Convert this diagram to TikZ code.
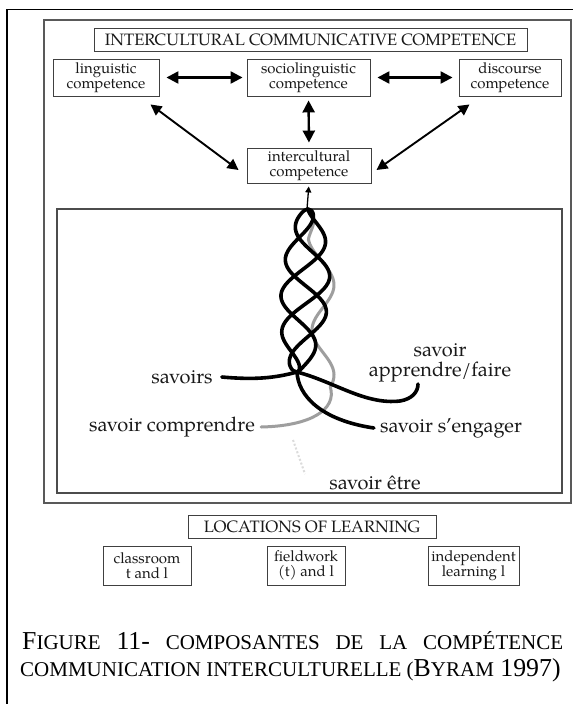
\documentclass[tikz,border=0pt]{standalone}
\usepackage{fontspec}
\newfontfamily\pal{texgyrepagella-regular.otf}
\newfontfamily\tnr{Liberation Serif}
\usetikzlibrary{arrows.meta,calc}
\newcommand\capbig[1]{{\fontsize{25.8}{25.8}\selectfont #1}}
\newcommand\capsm[1]{{\fontsize{21}{21}\selectfont #1}}
\tikzset{
  box/.style={draw=black!75, line width=0.9pt, inner sep=0pt, align=center,
    font=\pal\fontsize{15}{15.5}\selectfont, text=black!90},
  hbox/.style={draw=black!75, line width=0.9pt, inner sep=0pt,
    font=\pal\fontsize{16.5}{18}\selectfont, text=black!90, minimum height=23pt},
  darr/.style={line width=2.4pt, {Triangle[length=12pt,width=12pt]}-{Triangle[length=12pt,width=12pt]}},
  dgarr/.style={line width=1.9pt, {Triangle[length=11pt,width=11pt]}-{Triangle[length=11pt,width=11pt]}},
  uparr/.style={line width=1.3pt, -{Triangle[length=6pt,width=6pt]}},
  strand/.style={line width=3.6pt, black, line cap=round},
  gstrand/.style={line width=3pt, black!38, line cap=round},
  lbl/.style={inner sep=0pt, font=\pal\fontsize{20}{20}\selectfont, text=black!90},
}
\begin{document}
\begin{tikzpicture}[x=1pt,y=-1pt]
\useasboundingbox (0,0) rectangle (573,704);
\fill[white] (0,0) rectangle (573,704);
% table borders
\draw[line width=2.6pt] (7,9) -- (7,704);
\draw[line width=1pt] (7,9) -- (573,9);
% outer and inner frames
\draw[black!65, line width=1.4pt] (44,20) rectangle (571,503);
\node[draw=black!70, line width=1.1pt, minimum width=505pt, minimum height=284pt, inner sep=0pt] (inner) at (309.5,351) {};
% top part
\node[hbox, minimum width=433pt] (title) at (310.5,39.5) {INTERCULTURAL COMMUNICATIVE COMPETENCE};
\node[box, minimum width=106pt, minimum height=37pt] (ling) at (106,77.5) {linguistic\\competence};
\node[box, minimum width=123pt, minimum height=37pt] (socio) at (308.5,77.5) {sociolinguistic\\competence};
\node[box, minimum width=102pt, minimum height=37pt] (disc) at (510,77.5) {discourse\\competence};
\node[box, minimum width=124pt, minimum height=35pt] (inter) at (309,165.5) {intercultural\\competence};
\draw[darr, shorten <=7pt, shorten >=4pt] (ling) -- (socio);
\draw[darr, shorten <=7pt, shorten >=6pt] (socio) -- (disc);
\draw[darr, shorten <=4pt, shorten >=5pt] (socio.south) -- (inter.north);
\draw[dgarr] ([shift={(-9,8)}]ling.south east) -- ([shift={(-8,4.5)}]inter.west);
\draw[dgarr] ([shift={(11,8)}]disc.south west) -- ([shift={(5,4.5)}]inter.east);
\coordinate (btop) at (307,209);
\draw[uparr, shorten >=3pt] (btop) -- (inter.south);
% labels
\node[lbl] (sav) at (182,377) {savoirs};
\node[lbl, align=center] (app) at (440,363) {savoir\\apprendre/faire};
\node[lbl] (comp) at (172,427) {savoir comprendre};
\node[lbl] (eng) at (451,428) {savoir s’engager};
\node[lbl] (etre) at (375,483) {savoir être};
% braid
\coordinate (bbot) at (297,372);
\draw[black!14, line width=2pt, dash pattern=on 2pt off 2pt] (293,440) -- (305,474);
\draw[gstrand] plot[domain=6:178, samples=100, variable=\t]
  ({307 + 16*sqrt(min(1,\t/50)) + 11*sin((\t/90)*360 + 146)*min(1,\t/30)}, {209+\t})
  .. controls (337,410) and (310,426) .. ([xshift=6pt]comp.east);
\foreach \ph in {0,120,240}{
  \draw[strand] plot[domain=0:163, samples=120, variable=\t]
    ({308 - 11*(\t/163)*(\t/163) + 24*sqrt(abs(sin((\t/163)*180)))*sin((\t/115)*360 + \ph)}, {209+\t});
}
\draw[strand] ([xshift=9pt]sav.east) .. controls (255,380) and (275,378) .. (bbot);
\draw[strand] (bbot) .. controls (335,382) and (365,405) .. (400,401)
  .. controls (412,399) and (418,392) .. (418,384);
\draw[strand] (bbot) .. controls (298,395) and (320,420) .. ([xshift=-6pt]eng.west);
% locations of learning
\node[hbox, minimum width=248pt] (loc) at (312,526.5) {LOCATIONS OF LEARNING};
\node[box, minimum width=88pt, minimum height=39pt] (cls) at (147,565.5) {classroom\\t and l};
\node[box, minimum width=78pt, minimum height=39pt] (fld) at (306,565.5) {fieldwork\\(t) and l};
\node[box, minimum width=91pt, minimum height=39pt] (ind) at (473.5,565.5) {independent\\learning l};
% caption
\node[anchor=base west, inner sep=0pt, font=\tnr\fontsize{25.8}{25.8}\selectfont] (cap1) at (22,649)
  {\makebox[541pt][s]{\capbig{F}\capsm{IGURE} \capbig{11-} \capsm{COMPOSANTES} \capsm{DE} \capsm{LA} \capsm{COMPÉTENCE}}};
\node[anchor=base west, inner sep=0pt, font=\tnr\fontsize{25.8}{25.8}\selectfont] (cap2) at (20,676)
  {\capsm{COMMUNICATION INTERCULTURELLE (}\capbig{B}\capsm{YRAM} \capbig{1997)}};
\end{tikzpicture}
\end{document}
